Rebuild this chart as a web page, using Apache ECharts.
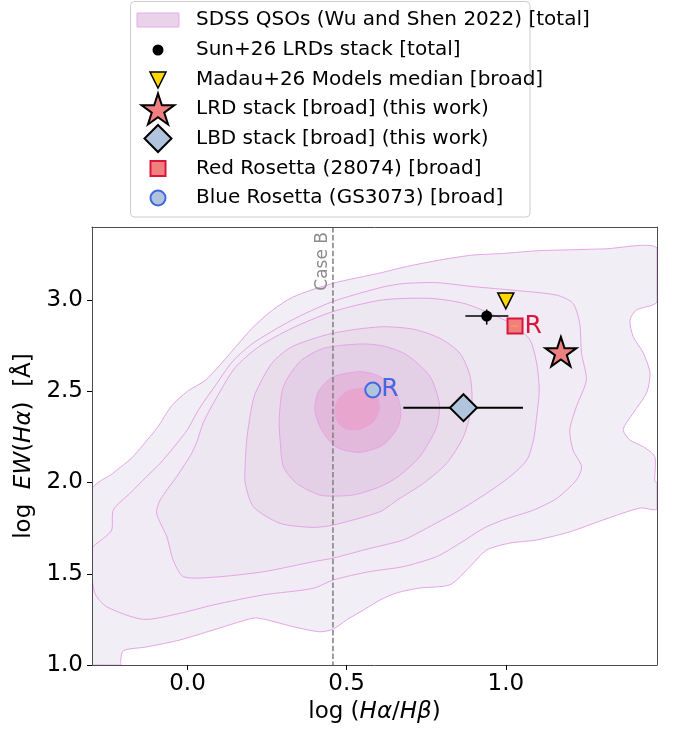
<!DOCTYPE html>
<html><head><meta charset="utf-8">
<script src="https://cdn.jsdelivr.net/npm/echarts@6/dist/echarts.min.js"></script>
<style>html,body{margin:0;padding:0;background:#fff}#c{width:676px;height:729px}</style>
</head><body><div id="c"></div>
<script>
// ---------------- data ----------------
const xRange = [-0.3, 1.475];
const yRange = [1.0, 3.4];
const xTicks = [0.0, 0.5, 1.0];
const yTicks = [1.0, 1.5, 2.0, 2.5, 3.0];
const caseB = 0.457;

// SDSS QSO density contours (outer -> inner), [log(Ha/Hb), log EW(Ha)]
const qsoLevel0 = [
[-0.300,1.960],[-0.235,2.050],[-0.175,2.135],[-0.140,2.205],[-0.095,2.300],[-0.050,2.420],[0.000,2.500],[0.056,2.560],[0.100,2.640],[0.140,2.720],[0.200,2.840],[0.260,2.935],[0.330,3.015],[0.454,3.090],[0.610,3.150],[0.680,3.180],[0.780,3.215],[0.890,3.245],[0.990,3.255],[1.100,3.270],[1.200,3.275],[1.310,3.280],[1.475,3.285],
[1.475,2.990],[1.410,2.945],[1.390,2.890],[1.400,2.800],[1.432,2.710],[1.453,2.600],[1.442,2.490],[1.400,2.380],[1.369,2.290],[1.390,2.233],[1.432,2.196],[1.468,2.142],[1.468,2.005],[1.475,2.000],
[1.475,1.855],[1.422,1.860],[1.306,1.795],[1.202,1.730],[1.097,1.685],[1.013,1.668],[0.940,1.630],[0.888,1.540],[0.825,1.440],[0.730,1.422],[0.657,1.395],[0.605,1.356],[0.563,1.312],[0.500,1.247],[0.458,1.197],[0.416,1.182],[0.332,1.210],[0.217,1.258],[0.165,1.237],[0.081,1.192],[-0.024,1.137],[-0.128,1.099],[-0.202,1.078],[-0.210,1.020],[-0.210,1.000],[-0.300,1.000]
];
const qsoLevel1 = [
[-0.300,1.639],[-0.264,1.694],[-0.238,1.740],[-0.233,1.850],[-0.181,1.940],[-0.130,2.030],[-0.086,2.105],[-0.040,2.200],[0.000,2.290],[0.035,2.400],[0.087,2.530],[0.140,2.660],[0.203,2.760],[0.328,2.890],[0.454,2.990],[0.611,3.070],[0.678,3.090],[0.783,3.095],[0.888,3.075],[1.013,3.055],[1.159,3.027],[1.211,2.982],[1.232,2.872],[1.238,2.708],[1.253,2.562],[1.222,2.416],[1.201,2.288],[1.211,2.178],[1.238,2.087],[1.222,2.014],[1.160,1.913],[1.087,1.849],[0.992,1.795],[0.930,1.749],[0.856,1.667],[0.783,1.594],[0.678,1.539],[0.573,1.512],[0.458,1.466],[0.395,1.420],[0.238,1.384],[0.081,1.329],[-0.024,1.283],[-0.139,1.250],[-0.254,1.319],[-0.291,1.393],[-0.300,1.502]
];
const qsoLevel2 = [
[-0.097,1.831],[-0.086,1.904],[-0.034,2.032],[0.010,2.150],[0.030,2.225],[0.050,2.330],[0.098,2.485],[0.150,2.630],[0.224,2.744],[0.328,2.845],[0.454,2.935],[0.611,3.000],[0.762,3.009],[0.867,2.982],[0.950,2.927],[1.024,2.863],[1.076,2.781],[1.097,2.653],[1.105,2.507],[1.097,2.360],[1.087,2.233],[1.066,2.123],[1.013,2.032],[0.940,1.941],[0.856,1.849],[0.741,1.740],[0.678,1.685],[0.573,1.639],[0.458,1.586],[0.395,1.566],[0.238,1.511],[0.081,1.481],[-0.013,1.484],[-0.045,1.575],[-0.065,1.703]
];
const qsoLevel3 = [
[0.181,2.085],[0.186,2.233],[0.200,2.400],[0.213,2.489],[0.265,2.653],[0.328,2.744],[0.454,2.817],[0.606,2.853],[0.710,2.840],[0.793,2.790],[0.856,2.708],[0.888,2.580],[0.893,2.420],[0.867,2.251],[0.814,2.105],[0.741,1.995],[0.660,1.905],[0.605,1.840],[0.458,1.767],[0.395,1.754],[0.291,1.776],[0.207,1.867],[0.181,2.000]
];
const qsoLevel4 = [
[0.542,2.759],[0.427,2.735],[0.353,2.662],[0.301,2.525],[0.288,2.342],[0.291,2.233],[0.301,2.087],[0.343,1.995],[0.416,1.931],[0.479,1.926],[0.531,1.935],[0.605,1.977],[0.660,2.030],[0.730,2.142],[0.783,2.306],[0.791,2.434],[0.762,2.580],[0.689,2.699],[0.615,2.748]
];
const qsoLevel5 = [
[0.542,2.607],[0.458,2.580],[0.411,2.498],[0.400,2.397],[0.416,2.306],[0.440,2.240],[0.475,2.187],[0.542,2.165],[0.615,2.206],[0.662,2.306],[0.670,2.397],[0.647,2.525],[0.594,2.589]
];
const qsoLevel6 = [
[0.542,2.516],[0.500,2.498],[0.469,2.443],[0.463,2.379],[0.474,2.324],[0.500,2.293],[0.542,2.291],[0.584,2.333],[0.603,2.406],[0.594,2.479],[0.568,2.510]
];

const sunStack    = [[0.940, 2.912]];
const sunErrX     = [[0.873, 1.008, 2.912]];
const sunErrY     = [[0.940, 2.865, 2.948]];
const madauMedian = [[1.000, 2.995]];
const lrdStack    = [[1.173, 2.717]];
const lbdStack    = [[0.867, 2.410]];
const lbdErrX     = [[0.678, 1.054, 2.410]];
const redRosetta  = [[1.029, 2.857]];
const redErrX     = [[1.017, 1.038, 2.857]];
const blueRosetta = [[0.582, 2.507]];

// ---------------- styling ----------------
const FONT = 'DejaVu Sans';
const N_QSO = 'SDSS QSOs (Wu and Shen 2022) [total]';
const N_SUN = 'Sun+26 LRDs stack [total]';
const N_MADAU = 'Madau+26 Models median [broad]';
const N_LRD = 'LRD stack [broad] (this work)';
const N_LBD = 'LBD stack [broad] (this work)';
const N_RED = 'Red Rosetta (28074) [broad]';
const N_BLUE = 'Blue Rosetta (GS3073) [broad]';

const STAR = 'path://M0,-100L22.45,-30.9L95.11,-30.9L36.33,11.8L58.78,80.9L0,38.2L-58.78,80.9L-36.33,11.8L-95.11,-30.9L-22.45,-30.9Z';
const TRI_DOWN = 'path://M-100,-100L100,-100L0,100Z';
const DIAMOND = 'path://M0,-100L100,0L0,100L-100,0Z';
const SQUARE = 'path://M0,0L100,0L100,100L0,100Z';
const PATCH = 'path://M0,0L300,0L300,100L0,100Z';

const QSO_LINE = '#e6a4e6';
const levels = [qsoLevel0, qsoLevel1, qsoLevel2, qsoLevel3, qsoLevel4, qsoLevel5, qsoLevel6];
const bandColors = ['#f2eef6', '#f0ebf4', '#ede7f2', '#e9ddec', '#e4d0e6', '#e2b9da', '#e8a6cf'];

function contourSeries(name, pts, fill, z) {
  return {
    type: 'custom', name, data: pts, coordinateSystem: 'cartesian2d', clip: true, silent: true, z,
    encode: { x: 0, y: 1 },
    renderItem(params, api) {
      if (params.dataIndex !== 0) return null;
      const points = pts.map(p => api.coord(p));
      const lo = api.coord([xRange[0], yRange[1]]);
      const hi = api.coord([xRange[1], yRange[0]]);
      return { type: 'polygon', shape: { points, smooth: 0.25, smoothConstraint: [lo, hi] },
               style: { fill, stroke: QSO_LINE, lineWidth: 1 } };
    }
  };
}
function hErrSeries(name, data, color, width, z) {
  return {
    type: 'custom', name, data, coordinateSystem: 'cartesian2d', silent: true, z,
    encode: { x: [0, 1], y: 2 },
    renderItem(params, api) {
      const a = api.coord([api.value(0), api.value(2)]);
      const b = api.coord([api.value(1), api.value(2)]);
      return { type: 'line', shape: { x1: a[0], y1: a[1], x2: b[0], y2: b[1] }, style: { stroke: color, lineWidth: width } };
    }
  };
}
function vErrSeries(name, data, color, width, z) {
  return {
    type: 'custom', name, data, coordinateSystem: 'cartesian2d', silent: true, z,
    encode: { x: 0, y: [1, 2] },
    renderItem(params, api) {
      const a = api.coord([api.value(0), api.value(1)]);
      const b = api.coord([api.value(0), api.value(2)]);
      return { type: 'line', shape: { x1: a[0], y1: a[1], x2: b[0], y2: b[1] }, style: { stroke: color, lineWidth: width } };
    }
  };
}

const series = [];
levels.forEach((pts, i) => series.push(contourSeries(i === 0 ? N_QSO : 'qso' + i, pts, bandColors[i], 1)));
series.push({
  type: 'custom', name: 'caseB', data: [[caseB, yRange[1]]], coordinateSystem: 'cartesian2d', silent: true, z: 3,
  encode: { x: 0, y: 1 },
  renderItem(params, api) {
    const top = api.coord([caseB, yRange[1]]);
    const bot = api.coord([caseB, yRange[0]]);
    return { type: 'group', children: [
      { type: 'line', shape: { x1: top[0], y1: top[1], x2: bot[0], y2: bot[1] },
        style: { stroke: '#7f7f7f', lineWidth: 1.5, lineDash: [5.5, 2.4] } },
      { type: 'text', x: top[0] - 2, y: top[1] + 5, rotation: Math.PI / 2,
        style: { text: 'Case B', fill: '#8c8c8c', fontSize: 17, fontFamily: FONT, align: 'right', verticalAlign: 'bottom' } }
    ] };
  }
});
series.push(hErrSeries('sunErrX', sunErrX, '#000', 1.5, 5));
series.push(vErrSeries('sunErrY', sunErrY, '#000', 1.5, 5));
series.push(hErrSeries('lbdErrX', lbdErrX, '#000', 2, 5));

function scatter(name, data, symbol, size, style, z, extra) {
  return Object.assign({ type: 'scatter', name, data, symbol, symbolSize: size, itemStyle: style, z, silent: true }, extra || {});
}
series.push(scatter(N_SUN, sunStack, 'circle', 11, { color: '#000', opacity: 1 }, 6));
series.push(scatter(N_MADAU, madauMedian, TRI_DOWN, 16, { color: '#ffd700', borderColor: '#000', borderWidth: 1.5, opacity: 1 }, 6));
series.push(scatter(N_LRD, lrdStack, STAR, 31, { color: '#f08080', borderColor: '#000', borderWidth: 2, opacity: 1 }, 6, { symbolKeepAspect: true }));
series.push(scatter(N_LBD, lbdStack, DIAMOND, 27, { color: '#b0c4de', borderColor: '#000', borderWidth: 2, opacity: 1 }, 6));
series.push(scatter(N_RED, redRosetta, SQUARE, 15, { color: '#f08080', borderColor: '#dc143c', borderWidth: 2, opacity: 1 }, 6,
  { label: { show: true, formatter: 'R', position: 'right', distance: 1, color: '#dc143c', fontSize: 25, fontFamily: FONT } }));
series.push(hErrSeries('redErrX', redErrX, '#f5a04a', 1.5, 7));
series.push(scatter(N_BLUE, blueRosetta, 'circle', 15, { color: '#b0c4de', borderColor: '#4169e1', borderWidth: 2, opacity: 1 }, 6,
  { label: { show: true, formatter: 'R', position: 'right', distance: 0, color: '#4169e1', fontSize: 25, fontFamily: FONT } }));

const legendCfg = [
  { name: N_QSO, icon: PATCH, h: 14, halfW: 21.5, halfH: 10, cy: 20, style: { color: '#e8d3e8', borderColor: '#eaa8ea', borderWidth: 1, opacity: 1 } },
  { name: N_SUN, icon: 'circle', h: 11, halfW: 5.5, halfH: 10, cy: 50, style: { color: '#000', borderWidth: 0, opacity: 1 } },
  { name: N_MADAU, icon: TRI_DOWN, h: 16, halfW: 8.75, halfH: 10, cy: 80, style: { color: '#ffd700', borderColor: '#000', borderWidth: 1.5, opacity: 1 } },
  { name: N_LRD, icon: STAR, h: 31, halfW: 17.3, halfH: 16.5, cy: 109, style: { color: '#f08080', borderColor: '#000', borderWidth: 2, opacity: 1 } },
  { name: N_LBD, icon: DIAMOND, h: 27, halfW: 14.5, halfH: 14.5, cy: 138.5, style: { color: '#b0c4de', borderColor: '#000', borderWidth: 2, opacity: 1 } },
  { name: N_RED, icon: SQUARE, h: 15, halfW: 8.5, halfH: 10, cy: 168.5, style: { color: '#f08080', borderColor: '#dc143c', borderWidth: 2, opacity: 1 } },
  { name: N_BLUE, icon: 'circle', h: 15, halfW: 8.5, halfH: 10, cy: 198, style: { color: '#b0c4de', borderColor: '#4169e1', borderWidth: 2, opacity: 1 } }
];
const legends = legendCfg.map(e => ({
  data: [{ name: e.name, icon: e.icon, itemStyle: e.style }],
  orient: 'vertical', left: 158 - e.halfW, top: e.cy - e.halfH,
  itemWidth: 66, itemHeight: e.h, padding: 0, selectedMode: false, symbolKeepAspect: true,
  textStyle: { fontSize: 20, fontFamily: FONT, color: '#000' }, z: 10
}));

const tickFmt = v => v.toFixed(1);
const axisCommon = {
  axisLine: { show: true, onZero: false, lineStyle: { color: '#4d4d4d', width: 1 } },
  splitLine: { show: false }, z: 8
};
const rich = {
  r: { fontSize: 23, fontFamily: FONT, color: '#000' },
  i: { fontSize: 23, fontFamily: FONT, fontStyle: 'italic', color: '#000' }
};

const option = {
  animation: false,
  textStyle: { fontFamily: FONT },
  grid: { left: 92, right: 19, top: 227, bottom: 64, containLabel: false },
  legend: legends,
  graphic: [{
    type: 'rect', shape: { x: 130.5, y: 1.5, width: 399.5, height: 215.5, r: 4 }, z: 5,
    style: { fill: 'rgba(255,255,255,0.8)', stroke: '#cccccc', lineWidth: 1 }
  }],
  xAxis: [
    Object.assign({}, axisCommon, {
      type: 'value', min: xRange[0], max: xRange[1], position: 'bottom',
      axisTick: { show: true, inside: false, length: 5, lineStyle: { color: '#000', width: 1 }, customValues: xTicks },
      axisLabel: { customValues: xTicks, formatter: tickFmt, fontSize: 23, fontFamily: FONT, color: '#000', margin: 8 },
      name: '{r|log (}{i|Hα}{r|/}{i|Hβ}{r|)}', nameLocation: 'middle', nameGap: 34,
      nameTextStyle: { fontSize: 23, fontFamily: FONT, color: '#000', rich }
    }),
    Object.assign({}, axisCommon, {
      type: 'value', min: xRange[0], max: xRange[1], position: 'top',
      axisTick: { show: false }, axisLabel: { show: false }
    })
  ],
  yAxis: [
    Object.assign({}, axisCommon, {
      type: 'value', min: yRange[0], max: yRange[1], position: 'left',
      axisTick: { show: true, inside: false, length: 5, lineStyle: { color: '#000', width: 1 }, customValues: yTicks },
      axisLabel: { customValues: yTicks, formatter: tickFmt, fontSize: 23, fontFamily: FONT, color: '#000', margin: 9 },
      name: '{r|log  }{i|EW}{r|(}{i|Hα}{r|)  [Å]}', nameLocation: 'middle', nameGap: 52, nameRotate: 90,
      nameTextStyle: { fontSize: 23, fontFamily: FONT, color: '#000', rich }
    }),
    Object.assign({}, axisCommon, {
      type: 'value', min: yRange[0], max: yRange[1], position: 'right',
      axisTick: { show: false }, axisLabel: { show: false }
    })
  ],
  series
};
series.forEach(s => { s.xAxisIndex = 0; s.yAxisIndex = 0; });
const chart = echarts.init(document.getElementById('c'), null, { renderer: 'canvas' });
chart.setOption(option);
</script></body></html>
